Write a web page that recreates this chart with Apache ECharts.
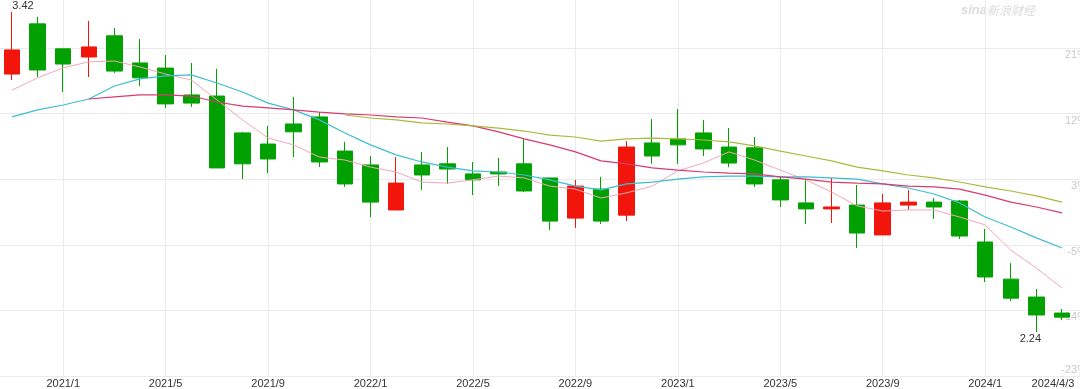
<!DOCTYPE html>
<html><head><meta charset="utf-8">
<script src="https://cdn.jsdelivr.net/npm/echarts@6/dist/echarts.min.js"></script>
<style>html,body{margin:0;padding:0;background:#fff}#c{width:1080px;height:389px}</style>
</head><body><div id="c"></div>
<script>
const categories = ['2020/11','2020/12','2021/1','2021/2','2021/3','2021/4','2021/5','2021/6','2021/7','2021/8','2021/9','2021/10','2021/11','2021/12',
  '2022/1','2022/2','2022/3','2022/4','2022/5','2022/6','2022/7','2022/8','2022/9','2022/10','2022/11','2022/12',
  '2023/1','2023/2','2023/3','2023/4','2023/5','2023/6','2023/7','2023/8','2023/9','2023/10','2023/11','2023/12',
  '2024/1','2024/2','2024/3','2024/4/3'];
const openP  = [3.191,3.376,3.284,3.254,3.332,3.232,3.213,3.114,3.110,2.974,2.933,3.007,3.033,2.907,2.856,2.690,2.856,2.860,2.823,2.830,2.860,2.808,2.660,2.767,2.671,2.937,2.952,2.974,2.922,2.919,2.801,2.716,2.694,2.708,2.598,2.708,2.719,2.723,2.572,2.435,2.369,2.310];
const closeP = [3.280,3.206,3.228,3.291,3.202,3.177,3.081,3.084,2.845,2.860,2.878,2.978,2.867,2.786,2.719,2.789,2.819,2.841,2.801,2.823,2.760,2.649,2.778,2.649,2.922,2.889,2.930,2.915,2.863,2.786,2.727,2.694,2.701,2.605,2.716,2.719,2.701,2.594,2.443,2.365,2.303,2.295];
const lowP   = [3.169,3.180,3.125,3.180,3.195,3.147,3.066,3.070,2.845,2.804,2.826,2.885,2.848,2.775,2.664,2.690,2.764,2.786,2.745,2.778,2.756,2.616,2.624,2.638,2.649,2.860,2.860,2.889,2.848,2.775,2.701,2.638,2.642,2.550,2.598,2.690,2.657,2.583,2.424,2.354,2.240,2.284];
const highP  = [3.420,3.402,3.284,3.387,3.361,3.320,3.261,3.232,3.210,2.978,3.000,3.107,3.051,2.941,2.889,2.885,2.904,2.922,2.867,2.882,2.952,2.808,2.801,2.812,2.944,3.025,3.062,3.022,2.992,2.959,2.815,2.801,2.808,2.782,2.749,2.764,2.734,2.727,2.620,2.494,2.399,2.325];
const ma5  = [3.132,3.177,3.214,3.236,3.239,3.217,3.191,3.169,3.096,3.022,2.955,2.930,2.885,2.874,2.848,2.830,2.793,2.789,2.801,2.815,2.808,2.778,2.767,2.734,2.753,2.778,2.834,2.863,2.904,2.874,2.837,2.801,2.756,2.705,2.686,2.690,2.690,2.664,2.635,2.542,2.476,2.402];
const ma10 = [3.033,3.059,3.077,3.099,3.147,3.173,3.184,3.188,3.158,3.125,3.084,3.059,3.022,2.974,2.930,2.893,2.867,2.848,2.834,2.830,2.819,2.801,2.778,2.764,2.786,2.793,2.804,2.812,2.815,2.815,2.812,2.812,2.808,2.804,2.786,2.771,2.749,2.716,2.664,2.627,2.587,2.550];
const ma20 = [null,null,null,3.099,3.107,3.114,3.114,3.110,3.088,3.073,3.066,3.059,3.051,3.044,3.040,3.033,3.029,3.014,3.000,2.978,2.952,2.930,2.904,2.871,2.860,2.845,2.837,2.830,2.826,2.823,2.812,2.804,2.793,2.789,2.786,2.778,2.775,2.767,2.745,2.719,2.701,2.679];
const ma30 = [null,null,null,null,null,null,null,null,null,null,null,null,null,3.040,3.029,3.022,3.011,3.007,3.000,2.992,2.981,2.966,2.959,2.944,2.952,2.955,2.952,2.948,2.941,2.926,2.907,2.889,2.871,2.848,2.834,2.819,2.808,2.793,2.775,2.760,2.742,2.719];
const yTickLabels = ['-23%','-14%','-5%','3%','12%','21%'];

const priceAxisMin = 2.078, priceAxisMax = 3.464;
const RED = '#f2150c', GREEN = '#02a102';
const last = categories.length - 1;
const candles = categories.map((c, i) => [openP[i], closeP[i], lowP[i], highP[i]]);
const FONT = 'Arial, "Liberation Sans", sans-serif';

const chart = echarts.init(document.getElementById('c'), null, {renderer: 'canvas'});
const lineSeries = (data, color, width) => ({
  type: 'line', data, xAxisIndex: 0, yAxisIndex: 0, showSymbol: false, symbol: 'none',
  clip: false, connectNulls: false, lineStyle: {color, width}, emphasis: {disabled: true}, z: 3
});
chart.setOption({
  animation: false,
  backgroundColor: '#fff',
  textStyle: {fontFamily: FONT},
  grid: [
    {left: 12, right: 18, top: 0, bottom: 13, containLabel: false, outerBoundsMode: 'none'},
    {left: 0, right: 0, top: 0, bottom: 13, containLabel: false, outerBoundsMode: 'none'}
  ],
  xAxis: [
    {type: 'category', gridIndex: 0, data: categories, boundaryGap: false,
     axisLine: {show: false}, axisTick: {show: false},
     axisLabel: {interval: (i) => i === last || (i - 2) % 4 === 0, margin: 2, color: '#333', fontSize: 11,
       formatter: (v, i) => i === last ? '{e|' + v + '}' : v,
       rich: {e: {padding: [0, 18, 0, 0], fontSize: 11, color: '#333', fontFamily: FONT}}},
     splitLine: {show: true, interval: (i) => i !== last && (i - 2) % 4 === 0, lineStyle: {color: '#ebebeb', width: 1}}},
    {type: 'value', gridIndex: 1, min: 0, max: 1, show: false}
  ],
  yAxis: [
    {type: 'value', gridIndex: 0, min: priceAxisMin, max: priceAxisMax, show: false, splitLine: {show: false}},
    {type: 'value', gridIndex: 1, position: 'right', min: 0, max: 5.7317, interval: 1,
     axisLine: {show: false}, axisTick: {show: false},
     splitLine: {show: true, showMaxLine: false, lineStyle: {color: '#ebebeb', width: 1}},
     axisLabel: {show: true, align: 'right', margin: 7, showMaxLabel: false, color: '#c8c8c8', fontSize: 11,
       formatter: (v) => {
         const i = Math.round(v);
         if (Math.abs(v - i) > 1e-6 || i > 5) return '';
         return i === 0 ? '{b|' + yTickLabels[i] + '}' : '{a|' + yTickLabels[i] + '}';
       },
       rich: {
         a: {padding: [14, 0, 0, 0], color: '#c8c8c8', fontSize: 11, fontFamily: FONT},
         b: {padding: [0, 0, 12, 0], color: '#c8c8c8', fontSize: 11, fontFamily: FONT}
       }}}
  ],
  graphic: [
    {type: 'text', left: 961, top: 4, silent: true, style: {text: 'sina', font: 'italic bold 13px Arial', fill: '#dcdcdc'}},
    {type: 'text', left: 987, top: 4, silent: true, style: {text: '新浪财经', font: 'italic 12px "Noto Sans CJK SC"', fill: '#dcdcdc'}}
  ],
  series: [
    {type: 'candlestick', xAxisIndex: 0, yAxisIndex: 0, data: candles, barWidth: 16, clip: false,
     emphasis: {disabled: true},
     itemStyle: {color: RED, color0: GREEN, borderColor: RED, borderColor0: GREEN, borderWidth: 1},
     markPoint: {
       symbol: 'circle', symbolSize: 0, silent: true,
       label: {show: true, position: 'inside', color: '#333', fontSize: 11, formatter: (p) => Number(p.value).toFixed(2)},
       data: [
         {type: 'max', valueDim: 'highest', label: {offset: [11, -6]}},
         {type: 'min', valueDim: 'lowest', label: {offset: [-6, 7]}}
       ]
     }},
    lineSeries(ma5, '#f2a7ba', 1),
    lineSeries(ma10, '#3dbdd2', 1.2),
    lineSeries(ma20, '#d93b6e', 1.2),
    lineSeries(ma30, '#a9bb3e', 1.2)
  ]
});
</script>
</body></html>
